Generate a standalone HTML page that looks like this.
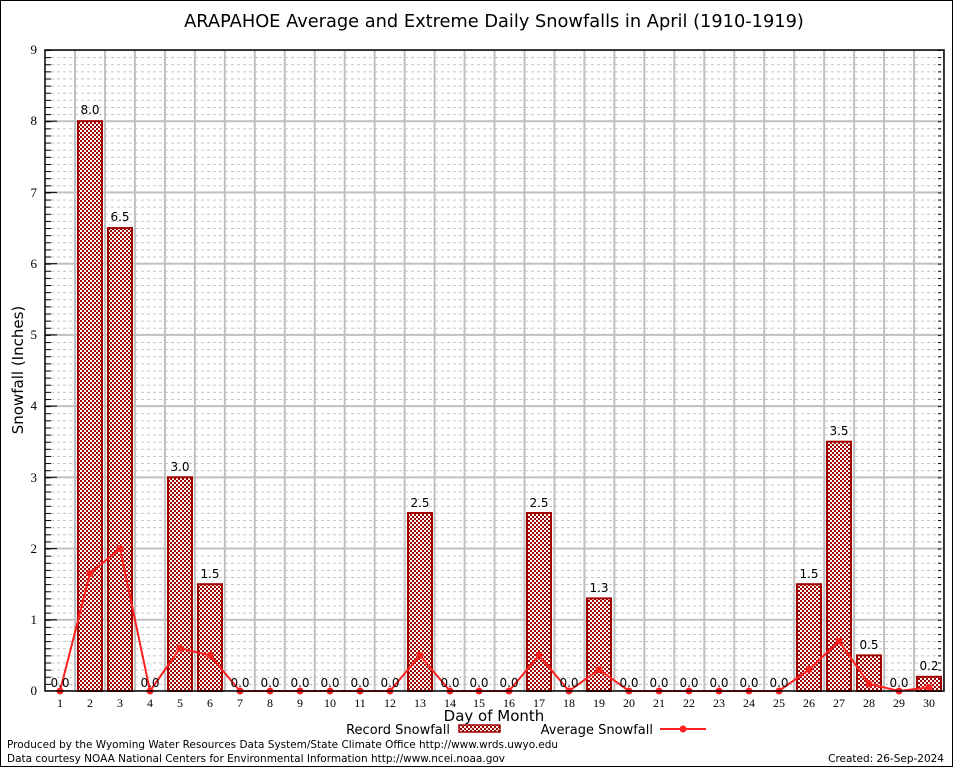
<!DOCTYPE html>
<html><head><meta charset="utf-8"><style>body{margin:0;background:#fff}svg{display:block}</style></head><body>
<svg width="954" height="768" xmlns="http://www.w3.org/2000/svg">
<defs>
<pattern id="chk" width="4" height="4" patternUnits="userSpaceOnUse"><rect width="4" height="4" fill="#fff"/><rect width="2" height="2" fill="#a00000"/><rect x="2" y="2" width="2" height="2" fill="#a00000"/></pattern>
<pattern id="minor" x="45" y="50" width="899" height="7.122" patternUnits="userSpaceOnUse"><line x1="0" y1="0.5" x2="899" y2="0.5" stroke="#c0c0c0" stroke-width="1" stroke-dasharray="3,3"/></pattern>
<pattern id="vgrid" x="74" y="0" width="29.966" height="700" patternUnits="userSpaceOnUse"><line x1="1" y1="0" x2="1" y2="700" stroke="#c0c0c0" stroke-width="2"/></pattern>
<pattern id="hgrid" x="0" y="49" width="954" height="71.22" patternUnits="userSpaceOnUse"><line x1="0" y1="1" x2="954" y2="1" stroke="#c0c0c0" stroke-width="2"/></pattern>
<pattern id="lt" x="45" y="50" width="10" height="7.122" patternUnits="userSpaceOnUse"><line x1="0" y1="0.5" x2="6" y2="0.5" stroke="#000"/></pattern>
</defs>
<rect x="0.5" y="0.5" width="952" height="766" fill="#fff" stroke="#000"/>
<text x="494" y="27" font-family="DejaVu Sans, sans-serif" font-size="17.8" text-anchor="middle">ARAPAHOE Average and Extreme Daily Snowfalls in April (1910-1919)</text>
<rect x="45" y="50" width="899" height="641" fill="url(#minor)"/>
<rect x="45" y="50" width="899" height="641" fill="url(#hgrid)"/>
<rect x="74" y="50" width="870" height="641" fill="url(#vgrid)"/>
<rect x="45" y="50" width="6" height="641" fill="url(#lt)"/>
<rect x="938" y="50" width="6" height="641" fill="url(#lt)"/>
<g stroke="#000" stroke-width="1">
<line x1="45" y1="121.2" x2="57" y2="121.2"/><line x1="45" y1="192.4" x2="57" y2="192.4"/><line x1="45" y1="263.7" x2="57" y2="263.7"/><line x1="45" y1="334.9" x2="57" y2="334.9"/><line x1="45" y1="406.1" x2="57" y2="406.1"/><line x1="45" y1="477.3" x2="57" y2="477.3"/><line x1="45" y1="548.6" x2="57" y2="548.6"/><line x1="45" y1="619.8" x2="57" y2="619.8"/>
</g>
<g fill="url(#chk)" stroke="#a00000" stroke-width="2">
<rect x="78" y="121.2" width="24" height="569.8"/>
<rect x="108" y="228.1" width="24" height="462.9"/>
<rect x="168" y="477.3" width="24" height="213.7"/>
<rect x="198" y="584.2" width="24" height="106.8"/>
<rect x="408" y="513" width="24" height="178"/>
<rect x="527" y="513" width="24" height="178"/>
<rect x="587" y="598.4" width="24" height="92.6"/>
<rect x="797" y="584.2" width="24" height="106.8"/>
<rect x="827" y="441.7" width="24" height="249.3"/>
<rect x="857" y="655.4" width="24" height="35.6"/>
<rect x="917" y="676.8" width="24" height="14.2"/>
</g>
<polyline fill="none" stroke="#ff2020" stroke-width="2" points="60,691 90,573.5 120,548.6 150,691 180,648.3 210,655.4 240,691 270,691 300,691 330,691 360,691 390,691 420,655.4 450,691 479,691 509,691 539,655.4 569,691 599,669.6 629,691 659,691 689,691 719,691 749,691 779,691 809,669.6 839,641.1 869,683.9 899,691 929,687.4"/>
<g fill="#ff2020">
<circle cx="60" cy="691" r="3.5"/><circle cx="90" cy="573.5" r="3.5"/><circle cx="120" cy="548.6" r="3.5"/><circle cx="150" cy="691" r="3.5"/><circle cx="180" cy="648.3" r="3.5"/><circle cx="210" cy="655.4" r="3.5"/><circle cx="240" cy="691" r="3.5"/><circle cx="270" cy="691" r="3.5"/><circle cx="300" cy="691" r="3.5"/><circle cx="330" cy="691" r="3.5"/><circle cx="360" cy="691" r="3.5"/><circle cx="390" cy="691" r="3.5"/><circle cx="420" cy="655.4" r="3.5"/><circle cx="450" cy="691" r="3.5"/><circle cx="479" cy="691" r="3.5"/><circle cx="509" cy="691" r="3.5"/><circle cx="539" cy="655.4" r="3.5"/><circle cx="569" cy="691" r="3.5"/><circle cx="599" cy="669.6" r="3.5"/><circle cx="629" cy="691" r="3.5"/><circle cx="659" cy="691" r="3.5"/><circle cx="689" cy="691" r="3.5"/><circle cx="719" cy="691" r="3.5"/><circle cx="749" cy="691" r="3.5"/><circle cx="779" cy="691" r="3.5"/><circle cx="809" cy="669.6" r="3.5"/><circle cx="839" cy="641.1" r="3.5"/><circle cx="869" cy="683.9" r="3.5"/><circle cx="899" cy="691" r="3.5"/><circle cx="929" cy="687.4" r="3.5"/>
</g>
<rect x="45" y="50" width="899" height="641" fill="none" stroke="#000" stroke-width="1.5"/>
<g font-family="DejaVu Sans, sans-serif" font-size="12" text-anchor="middle" fill="#000">
<text x="60" y="687">0.0</text><text x="90" y="114">8.0</text><text x="120" y="221">6.5</text><text x="150" y="687">0.0</text><text x="180" y="471">3.0</text><text x="210" y="578">1.5</text><text x="240" y="687">0.0</text><text x="270" y="687">0.0</text><text x="300" y="687">0.0</text><text x="330" y="687">0.0</text><text x="360" y="687">0.0</text><text x="390" y="687">0.0</text><text x="420" y="507">2.5</text><text x="450" y="687">0.0</text><text x="479" y="687">0.0</text><text x="509" y="687">0.0</text><text x="539" y="507">2.5</text><text x="569" y="687">0.0</text><text x="599" y="592">1.3</text><text x="629" y="687">0.0</text><text x="659" y="687">0.0</text><text x="689" y="687">0.0</text><text x="719" y="687">0.0</text><text x="749" y="687">0.0</text><text x="779" y="687">0.0</text><text x="809" y="578">1.5</text><text x="839" y="435">3.5</text><text x="869" y="649">0.5</text><text x="899" y="687">0.0</text><text x="929" y="670">0.2</text>
</g>
<g font-family="Liberation Serif, serif" font-size="13" text-anchor="end">
<text x="37" y="695">0</text><text x="37" y="624">1</text><text x="37" y="553">2</text><text x="37" y="482">3</text><text x="37" y="410">4</text><text x="37" y="339">5</text><text x="37" y="268">6</text><text x="37" y="197">7</text><text x="37" y="125">8</text><text x="37" y="54">9</text>
</g>
<g font-family="Liberation Serif, serif" font-size="12" text-anchor="middle">
<text x="60" y="707">1</text><text x="90" y="707">2</text><text x="120" y="707">3</text><text x="150" y="707">4</text><text x="180" y="707">5</text><text x="210" y="707">6</text><text x="240" y="707">7</text><text x="270" y="707">8</text><text x="300" y="707">9</text><text x="330" y="707">10</text><text x="360" y="707">11</text><text x="390" y="707">12</text><text x="420" y="707">13</text><text x="450" y="707">14</text><text x="479" y="707">15</text><text x="509" y="707">16</text><text x="539" y="707">17</text><text x="569" y="707">18</text><text x="599" y="707">19</text><text x="629" y="707">20</text><text x="659" y="707">21</text><text x="689" y="707">22</text><text x="719" y="707">23</text><text x="749" y="707">24</text><text x="779" y="707">25</text><text x="809" y="707">26</text><text x="839" y="707">27</text><text x="869" y="707">28</text><text x="899" y="707">29</text><text x="929" y="707">30</text>
</g>
<text transform="translate(23,370) rotate(-90)" font-family="DejaVu Sans, sans-serif" font-size="15" text-anchor="middle">Snowfall (Inches)</text>
<text x="494" y="721" font-family="DejaVu Sans, sans-serif" font-size="15" text-anchor="middle">Day of Month</text>
<g font-family="DejaVu Sans, sans-serif" font-size="13">
<text x="450" y="734" text-anchor="end">Record Snowfall</text>
<rect x="459" y="725" width="41" height="7" fill="url(#chk)" stroke="#a00000" stroke-width="1.5"/>
<text x="653" y="734" text-anchor="end">Average Snowfall</text>
<line x1="660" y1="729" x2="706" y2="729" stroke="#ff2020" stroke-width="2"/><circle cx="683" cy="729" r="3.5" fill="#ff2020"/>
</g>
<g font-family="DejaVu Sans, sans-serif" font-size="10.5">
<text x="7" y="748" textLength="551" lengthAdjust="spacingAndGlyphs">Produced by the Wyoming Water Resources Data System/State Climate Office http://www.wrds.uwyo.edu</text>
<text x="7" y="762" textLength="498" lengthAdjust="spacingAndGlyphs">Data courtesy NOAA National Centers for Environmental Information http://www.ncei.noaa.gov</text>
<text x="944" y="762" text-anchor="end">Created:  26-Sep-2024</text>
</g>
</svg>
</body></html>
